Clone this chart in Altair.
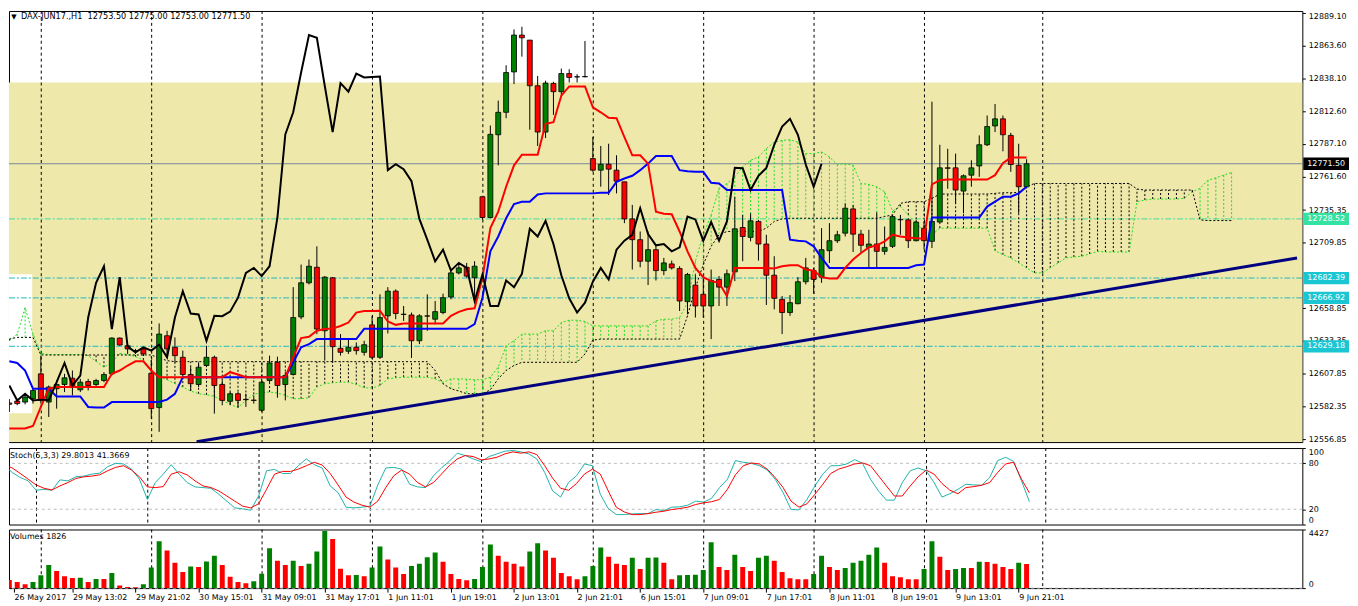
import altair as alt
import pandas as pd

# ---------------- data ----------------
opens = [
12585.0, 12586.5, 12585.7, 12588.3, 12607.7, 12585.7, 12596.1, 12599.4, 12604.3, 12595.3,
12601.7, 12599.4, 12602.5, 12607.7, 12635.6, 12629.6, 12625.8, 12627.1, 12608.2, 12581.4,
12637.4, 12628.4, 12620.6, 12607.2, 12599.4, 12614.2, 12620.6, 12599.4, 12586.3, 12592.2,
12587.8, 12587.0, 12579.3, 12602.5, 12616.7, 12599.4, 12607.2, 12652.1, 12678.7, 12690.8,
12641.3, 12682.6, 12627.6, 12625.3, 12628.4, 12624.5, 12645.9, 12620.6, 12652.9, 12672.2,
12654.2, 12653.6, 12633.5, 12652.9, 12650.3, 12655.5, 12667.6, 12686.4, 12690.8, 12682.6,
12745.8, 12729.6, 12794.1, 12811.6, 12843.1, 12871.8, 12867.9, 12832.3, 12796.2, 12834.1,
12827.7, 12841.8, 12839.3, 12839.3, 12775.5, 12766.5, 12771.1, 12766.5, 12757.4, 12728.5,
12712.3, 12695.5, 12704.5, 12688.2, 12693.4, 12689.8, 12664.0, 12676.9, 12669.7, 12660.6,
12681.3, 12675.3, 12687.2, 12721.8, 12714.1, 12726.5, 12708.9, 12684.6, 12665.8, 12655.5,
12662.4, 12679.5, 12688.2, 12683.1, 12703.7, 12711.5, 12717.4, 12736.3, 12716.6, 12706.3,
12708.9, 12703.2, 12707.1, 12727.8, 12727.8, 12711.5, 12721.3, 12711.0, 12726.0, 12768.3,
12768.3, 12750.2, 12762.6, 12769.8, 12786.3, 12801.0, 12806.5, 12793.6, 12770.3, 12753.5]
highs = [
12588.0, 12588.3, 12592.2, 12596.1, 12621.9, 12598.6, 12602.5, 12607.7, 12610.3, 12603.8,
12603.8, 12603.8, 12609.0, 12636.1, 12636.1, 12630.9, 12627.1, 12628.4, 12618.0, 12647.0,
12641.3, 12636.1, 12625.8, 12612.9, 12616.7, 12629.6, 12621.9, 12602.5, 12593.5, 12593.5,
12592.2, 12590.9, 12602.5, 12621.9, 12621.1, 12609.0, 12675.3, 12692.9, 12696.8, 12707.1,
12683.9, 12683.1, 12638.7, 12634.8, 12632.2, 12633.5, 12652.9, 12669.7, 12675.3, 12673.5,
12660.6, 12655.5, 12654.2, 12669.7, 12664.5, 12670.2, 12690.3, 12694.2, 12694.2, 12695.5,
12745.8, 12801.3, 12820.7, 12848.3, 12876.2, 12878.3, 12867.9, 12840.0, 12836.2, 12835.4,
12845.7, 12845.2, 12841.3, 12867.2, 12792.3, 12785.3, 12787.1, 12778.1, 12757.4, 12739.4,
12718.7, 12718.7, 12708.4, 12698.1, 12696.0, 12691.6, 12686.4, 12685.2, 12682.1, 12689.0,
12683.9, 12689.0, 12745.8, 12731.6, 12732.9, 12727.8, 12716.1, 12699.4, 12668.4, 12669.1,
12683.1, 12698.1, 12690.3, 12721.3, 12725.2, 12719.2, 12740.6, 12739.4, 12720.0, 12720.0,
12733.7, 12722.6, 12731.6, 12731.6, 12729.0, 12727.8, 12726.5, 12819.9, 12786.3, 12783.2,
12779.4, 12763.1, 12774.2, 12793.6, 12809.1, 12818.1, 12809.1, 12795.6, 12787.1, 12775.0]
lows = [
12578.0, 12583.2, 12583.9, 12584.5, 12584.5, 12574.1, 12580.6, 12593.5, 12590.9, 12593.5,
12594.8, 12597.4, 12601.2, 12606.4, 12629.6, 12623.2, 12623.2, 12621.9, 12572.8, 12562.5,
12620.6, 12616.7, 12603.8, 12594.8, 12597.4, 12612.9, 12576.7, 12583.2, 12583.2, 12581.4,
12581.9, 12584.5, 12578.0, 12601.2, 12589.1, 12587.0, 12606.4, 12650.3, 12677.4, 12638.7,
12618.0, 12616.7, 12621.9, 12623.2, 12622.7, 12621.9, 12619.3, 12619.3, 12639.2, 12650.3,
12649.0, 12620.1, 12630.9, 12641.3, 12646.4, 12654.2, 12665.8, 12685.2, 12682.6, 12664.5,
12727.8, 12729.0, 12770.3, 12807.0, 12833.6, 12855.0, 12798.0, 12785.3, 12791.5, 12809.6,
12824.6, 12834.9, 12834.9, 12838.8, 12765.2, 12753.6, 12747.1, 12748.4, 12725.2, 12689.0,
12690.8, 12676.9, 12680.5, 12684.6, 12689.0, 12656.7, 12654.2, 12651.6, 12651.6, 12634.8,
12660.6, 12660.6, 12680.0, 12695.5, 12711.0, 12696.0, 12661.4, 12658.0, 12638.7, 12652.9,
12661.9, 12677.4, 12670.2, 12678.7, 12694.2, 12709.7, 12714.8, 12702.7, 12702.7, 12690.3,
12690.3, 12700.6, 12705.8, 12716.1, 12705.8, 12711.0, 12704.5, 12705.8, 12726.0, 12752.0,
12740.6, 12732.9, 12753.6, 12761.3, 12785.3, 12796.2, 12781.2, 12765.2, 12732.9, 12753.0]
closes = [
12584.0, 12584.5, 12589.6, 12594.8, 12587.0, 12597.4, 12599.4, 12604.6, 12597.4, 12601.2,
12598.6, 12602.5, 12607.2, 12635.6, 12630.2, 12627.1, 12625.5, 12623.2, 12580.6, 12638.7,
12627.1, 12621.9, 12607.2, 12600.0, 12612.9, 12620.6, 12598.6, 12587.0, 12592.2, 12587.0,
12587.6, 12587.2, 12601.2, 12616.2, 12598.6, 12606.4, 12651.6, 12678.7, 12691.6, 12642.6,
12683.1, 12628.9, 12624.5, 12628.4, 12625.8, 12630.4, 12620.6, 12651.6, 12672.2, 12654.7,
12654.0, 12633.5, 12652.9, 12652.7, 12656.2, 12667.1, 12686.4, 12690.3, 12683.9, 12691.6,
12729.6, 12794.4, 12811.6, 12842.6, 12871.8, 12869.7, 12832.3, 12796.2, 12834.4, 12827.7,
12841.8, 12838.8, 12839.2, 12839.5, 12766.5, 12771.1, 12767.3, 12757.9, 12728.5, 12712.3,
12695.5, 12704.5, 12688.2, 12694.2, 12690.3, 12664.5, 12685.2, 12660.6, 12660.6, 12680.5,
12675.3, 12685.7, 12720.8, 12714.8, 12727.0, 12708.9, 12684.6, 12666.6, 12655.5, 12663.2,
12679.5, 12690.3, 12681.3, 12704.5, 12711.5, 12716.1, 12736.8, 12716.6, 12707.9, 12708.9,
12703.2, 12706.3, 12730.3, 12728.1, 12711.5, 12726.0, 12711.5, 12726.5, 12768.3, 12768.0,
12751.0, 12762.1, 12768.3, 12786.3, 12800.5, 12806.5, 12794.1, 12770.9, 12753.6, 12771.5]

tenkan = [
12565.1, 12565.1, 12565.1, 12567.0, 12582.0, 12596.1, 12597.4, 12597.4, 12597.4, 12597.4,
12597.4, 12597.4, 12597.4, 12607.7, 12610.3, 12614.2, 12617.5, 12617.5, 12610.3, 12605.1,
12605.1, 12605.1, 12605.1, 12605.1, 12605.1, 12605.1, 12605.1, 12605.1, 12609.0, 12607.2,
12605.1, 12605.1, 12605.1, 12605.1, 12605.1, 12605.1, 12620.6, 12635.6, 12636.6, 12641.3,
12642.6, 12643.1, 12645.0, 12647.7, 12655.5, 12656.7, 12656.7, 12656.9, 12648.5, 12645.9,
12646.9, 12647.0, 12647.0, 12647.0, 12647.0, 12647.0, 12652.9, 12656.0, 12658.0, 12658.8,
12682.6, 12721.3, 12734.2, 12753.6, 12770.3, 12778.6, 12778.6, 12778.6, 12802.6, 12803.9,
12824.6, 12831.8, 12831.8, 12831.8, 12815.5, 12811.6, 12807.3, 12807.0, 12792.3, 12778.1,
12778.1, 12771.6, 12734.2, 12732.6, 12732.1, 12718.7, 12703.2, 12690.3, 12683.1, 12680.0,
12678.7, 12668.4, 12690.3, 12690.3, 12690.3, 12690.3, 12690.3, 12689.8, 12691.6, 12692.4,
12692.4, 12689.0, 12688.2, 12683.1, 12682.1, 12682.1, 12690.3, 12696.8, 12701.9, 12706.3,
12707.9, 12711.0, 12716.1, 12714.8, 12714.0, 12713.5, 12713.0, 12755.4, 12758.7, 12759.2,
12759.2, 12759.2, 12759.2, 12759.2, 12759.2, 12762.6, 12772.0, 12776.3, 12776.3, 12776.3]
kijun = [
12617.5, 12616.2, 12610.3, 12596.1, 12596.1, 12596.1, 12590.1, 12590.1, 12590.1, 12590.1,
12581.9, 12581.4, 12581.4, 12585.7, 12585.7, 12585.7, 12585.7, 12585.7, 12585.7, 12585.7,
12587.6, 12592.2, 12605.1, 12605.1, 12605.1, 12605.1, 12605.1, 12605.1, 12605.1, 12605.1,
12605.1, 12605.1, 12605.1, 12605.1, 12605.1, 12605.1, 12616.7, 12628.4, 12630.9, 12634.8,
12634.8, 12634.8, 12634.8, 12634.8, 12634.8, 12642.8, 12642.8, 12642.8, 12642.8, 12642.8,
12642.8, 12642.8, 12642.8, 12642.8, 12642.8, 12642.8, 12642.8, 12642.8, 12642.8, 12646.4,
12667.1, 12703.2, 12714.8, 12729.0, 12740.1, 12741.9, 12741.9, 12747.6, 12748.4, 12748.4,
12748.4, 12748.4, 12748.4, 12748.4, 12748.4, 12748.9, 12748.9, 12757.4, 12760.0, 12762.1,
12766.5, 12771.6, 12777.6, 12777.6, 12777.6, 12766.5, 12765.7, 12765.2, 12765.2, 12756.7,
12756.1, 12751.0, 12751.0, 12751.0, 12751.0, 12751.0, 12751.0, 12751.0, 12751.0, 12712.3,
12711.5, 12711.0, 12707.1, 12698.1, 12690.3, 12690.3, 12690.3, 12690.3, 12690.3, 12690.3,
12690.3, 12690.3, 12690.3, 12690.3, 12690.3, 12692.4, 12692.9, 12729.6, 12729.6, 12729.6,
12729.6, 12729.6, 12729.6, 12729.6, 12738.1, 12742.0, 12745.8, 12745.8, 12748.4, 12753.6]
span_a = [
12633.5, 12638.7, 12659.3, 12638.7, 12623.7, 12622.7, 12622.7, 12622.7, 12622.7, 12622.7,
12621.9, 12617.5, 12612.9, 12616.7, 12623.7, 12622.7, 12621.1, 12618.5, 12610.8, 12605.6,
12603.1, 12600.0, 12597.4, 12594.3, 12592.2, 12591.4, 12590.1, 12587.0, 12583.9, 12581.4,
12587.0, 12591.7, 12593.2, 12593.5, 12592.7, 12590.9, 12588.3, 12588.3, 12589.1, 12597.4,
12600.0, 12600.7, 12601.2, 12601.2, 12599.4, 12596.9, 12596.6, 12598.6, 12603.8, 12604.6,
12605.1, 12605.1, 12605.1, 12605.1, 12603.8, 12601.0, 12603.8, 12603.8, 12603.6, 12603.1,
12603.1, 12605.1, 12612.9, 12629.6, 12633.5, 12638.7, 12638.7, 12638.7, 12641.3, 12641.3,
12647.7, 12649.5, 12649.5, 12648.5, 12645.1, 12645.1, 12645.1, 12645.1, 12645.1, 12645.1,
12645.1, 12645.1, 12649.0, 12650.3, 12650.3, 12651.6, 12663.2, 12695.5, 12716.1, 12731.6,
12752.3, 12756.1, 12761.3, 12769.1, 12774.2, 12776.8, 12783.3, 12788.4, 12789.7, 12790.2,
12788.4, 12779.4, 12779.4, 12780.7, 12776.8, 12770.9, 12771.6, 12770.3, 12756.1, 12755.4,
12753.6, 12749.7, 12734.7, 12738.1, 12731.6, 12725.2, 12718.7, 12716.1, 12721.3, 12721.3,
12721.3, 12721.3, 12721.3, 12721.3, 12721.3, 12703.7, 12700.6, 12698.1, 12694.2, 12690.3,
12686.4, 12686.4, 12690.3, 12694.2, 12698.1, 12698.8, 12699.4, 12701.2, 12703.2, 12702.7,
12702.7, 12702.7, 12702.7, 12741.9, 12743.2, 12744.0, 12744.0, 12744.0, 12744.0, 12744.5,
12749.7, 12752.3, 12758.7, 12760.5, 12762.6, 12764.7]
span_b = [
12634.8, 12636.1, 12636.1, 12636.1, 12622.4, 12622.4, 12622.4, 12622.4, 12622.4, 12622.4,
12622.4, 12622.4, 12622.4, 12622.4, 12622.4, 12622.4, 12622.4, 12622.4, 12622.4, 12620.1,
12618.0, 12617.2, 12617.2, 12617.2, 12617.2, 12617.2, 12617.2, 12617.2, 12617.2, 12617.2,
12617.2, 12617.2, 12617.2, 12617.2, 12617.2, 12617.2, 12617.2, 12617.2, 12617.2, 12617.2,
12617.2, 12617.2, 12617.2, 12617.2, 12617.2, 12617.2, 12617.2, 12617.2, 12617.2, 12617.2,
12617.2, 12617.2, 12617.2, 12617.2, 12610.3, 12600.0, 12596.1, 12594.3, 12592.2, 12592.2,
12592.2, 12595.3, 12603.8, 12610.3, 12614.2, 12616.7, 12616.7, 12616.7, 12616.7, 12616.7,
12616.7, 12616.7, 12616.7, 12623.2, 12634.0, 12634.8, 12634.8, 12634.8, 12634.8, 12634.8,
12634.8, 12634.8, 12634.8, 12634.8, 12634.8, 12634.8, 12652.9, 12674.8, 12692.9, 12707.1,
12716.1, 12718.7, 12718.7, 12718.7, 12718.7, 12718.7, 12721.3, 12726.5, 12728.5, 12729.0,
12729.0, 12729.0, 12729.0, 12729.0, 12729.0, 12729.0, 12729.0, 12729.0, 12729.0, 12729.0,
12729.0, 12730.3, 12731.6, 12740.6, 12741.9, 12741.9, 12741.9, 12744.5, 12747.9, 12747.9,
12747.9, 12747.9, 12747.9, 12747.9, 12747.9, 12748.4, 12748.9, 12748.9, 12749.2, 12753.6,
12756.1, 12756.1, 12756.1, 12756.1, 12756.1, 12756.1, 12756.1, 12756.1, 12756.1, 12756.1,
12756.1, 12756.1, 12756.1, 12751.8, 12751.0, 12751.0, 12751.0, 12751.0, 12751.0, 12751.0,
12751.0, 12727.7, 12727.2, 12727.2, 12727.2, 12727.2]

stoch_main = [
76.9, 68.1, 61.5, 57.1, 44.8, 46.1, 44.8, 58.4, 57.1, 62.4,
63.3, 65.9, 67.2, 75.6, 80.0, 79.2, 72.5, 59.3, 32.8, 54.9,
65.9, 78.3, 65.9, 54.9, 49.2, 48.3, 47.4, 39.5, 30.6, 21.8,
20.5, 18.7, 37.3, 70.3, 72.1, 66.8, 66.8, 76.9, 85.8, 78.3,
73.9, 50.5, 41.7, 22.7, 21.8, 22.7, 24.0, 51.8, 73.9, 74.7,
72.5, 52.7, 49.2, 48.3, 63.7, 73.9, 82.7, 93.3, 90.2, 85.8,
82.2, 88.9, 92.4, 95.9, 96.8, 95.0, 92.4, 85.8, 68.1, 43.9,
35.9, 54.9, 63.7, 79.2, 76.9, 39.5, 20.9, 13.0, 13.0, 13.9,
14.3, 14.3, 19.6, 18.3, 22.7, 23.1, 25.3, 30.6, 29.3, 34.2,
48.3, 59.3, 83.6, 81.4, 80.0, 76.9, 71.2, 59.3, 41.7, 19.6,
19.2, 32.8, 50.5, 65.9, 76.9, 76.9, 79.2, 84.9, 80.0, 59.3,
43.9, 31.9, 31.9, 54.9, 70.3, 73.9, 70.3, 54.9, 35.9, 40.3,
46.1, 52.7, 51.8, 51.4, 61.5, 83.6, 87.9, 82.7, 57.1, 29.8]
stoch_signal = [
78.3, 73.9, 66.8, 59.3, 51.8, 47.4, 45.2, 50.5, 54.9, 60.2,
62.4, 63.3, 65.0, 70.3, 74.7, 76.9, 71.2, 62.4, 49.2, 48.3,
49.6, 65.9, 69.0, 65.0, 57.1, 50.5, 48.3, 43.9, 37.3, 30.6,
24.0, 21.8, 27.1, 46.1, 65.9, 69.4, 69.4, 72.5, 76.9, 81.4,
77.8, 66.8, 51.8, 35.9, 29.3, 25.3, 22.7, 30.6, 48.3, 63.7,
71.2, 65.9, 54.9, 49.2, 54.9, 65.9, 76.9, 85.8, 90.2, 88.9,
84.5, 85.8, 88.0, 92.4, 95.0, 93.3, 95.0, 91.5, 76.9, 60.6,
47.4, 44.8, 53.6, 65.9, 72.5, 65.9, 43.9, 22.7, 16.5, 13.0,
13.0, 14.3, 16.1, 17.4, 19.6, 20.9, 22.7, 26.2, 28.4, 29.8,
32.8, 46.1, 65.0, 76.9, 80.5, 79.2, 72.5, 61.5, 48.3, 30.6,
22.7, 27.1, 39.5, 52.7, 66.8, 72.5, 75.6, 79.2, 80.5, 76.9,
63.7, 50.5, 37.3, 37.3, 50.5, 62.4, 71.2, 65.9, 53.6, 44.8,
40.3, 48.3, 49.6, 51.4, 54.9, 68.1, 79.2, 81.4, 59.3, 41.4]
volumes = [
619, 464, 284, 464, 980, 1754, 1290, 903, 770, 790,
464, 697, 690, 1135, 206, 77, 70, 284, 1548, 3535,
2838, 1909, 1213, 1625, 1600, 2012, 2451, 1754, 851, 464,
361, 516, 1084, 3019, 2064, 1754, 2064, 1677, 1832, 2761,
4309, 3715, 1471, 970, 985, 903, 1548, 3148, 2167, 1548,
1058, 1677, 1832, 2322, 2683, 1987, 1058, 697, 593, 697,
1600, 3302, 2451, 1987, 1832, 1625, 2761, 3380, 2838, 2296,
1135, 903, 671, 903, 1677, 3070, 2374, 1832, 1754, 2296,
1445, 2296, 2310, 1909, 671, 980, 990, 1000, 1367, 3457,
1600, 1367, 2528, 1600, 1290, 2296, 2451, 2064, 1213, 748,
671, 660, 1058, 2451, 1600, 1367, 1522, 1909, 2064, 2528,
3070, 1909, 903, 826, 671, 660, 1445, 3535, 2374, 1367,
1445, 1522, 1510, 1987, 1975, 1832, 1600, 1445, 1909, 1826]

time_labels = ["26 May 2017", "29 May 13:02", "29 May 21:02", "30 May 15:01", "31 May 09:01",
               "31 May 17:01", "1 Jun 11:01", "1 Jun 19:01", "2 Jun 13:01", "2 Jun 21:01",
               "6 Jun 15:01", "7 Jun 09:01", "7 Jun 17:01", "8 Jun 11:01", "8 Jun 19:01",
               "9 Jun 13:01", "9 Jun 21:01"]
time_label_bars = [0.6, 8, 16, 24, 32, 40, 48, 56, 64, 72, 80, 88, 96, 104, 112, 120, 128]
price_ticks = [12889.10, 12863.60, 12838.10, 12812.60, 12787.10, 12761.60, 12735.35,
               12709.85, 12658.85, 12633.35, 12607.85, 12582.35, 12556.85]
grid_bars = [4.05, 18.05, 32.05, 46.05, 60.05, 74.05, 88.05, 102.05, 116.05, 131.05]
level_prices = [12771.50, 12728.52, 12682.39, 12666.92, 12629.18]
level_box_colors = ["#000000", "#35E2A2", "#19C6D2", "#19C6D2", "#19C6D2"]
level_line_colors = ["#778899", "#3CDFA0", "#22B8BC", "#22B8BC", "#22B8BC"]
trend_bars = [23.75, 163.3]
trend_prices = [12554.7, 12698.0]
zone_top = [12834.9]
zone_bottom = [12554.5]
box_bars = [-0.2, 2.9]
box_prices = [12577.0, 12685.4]
title_text = "DAX-JUN17.,H1\u00a0 12753.50 12775.00 12753.00 12771.50"
stoch_text = "Stoch(5,3,3) 29.8013 41.3669"
vol_text = "Volumes 1826"

# ---------------- frames ----------------
n = len(opens)
candles = pd.DataFrame({"i": range(n), "open": opens, "high": highs, "low": lows, "close": closes})
candles["cc"] = ["#008000" if c > o else ("#FF0000" if c < o else "#000000")
                 for o, c in zip(opens, closes)]
ind = pd.DataFrame({"i": range(n), "tenkan": tenkan, "kijun": kijun})
cloud = pd.DataFrame({"i": range(len(span_a)), "a": span_a, "b": span_b})
cloud["hc"] = ["#22DD22" if a >= b else "#000000" for a, b in zip(span_a, span_b)]
chikou = pd.DataFrame({"i": range(n - 26), "v": closes[26:]})
stoch = pd.DataFrame({"i": range(n), "k": stoch_main, "d": stoch_signal})
vol = pd.DataFrame({"i": range(n), "v": volumes})
vol["vc"] = ["#FF0000"] + ["#008000" if volumes[j] > volumes[j - 1] else "#FF0000" for j in range(1, n)]
grid = pd.DataFrame({"g": grid_bars})
levels = pd.DataFrame({"p": level_prices, "bc": level_box_colors, "lc": level_line_colors,
                       "lbl": [f"{v:.2f}" for v in level_prices]})
trend = pd.DataFrame({"i": trend_bars, "p": trend_prices})
zone = pd.DataFrame({"top": zone_top, "bot": zone_bottom})
wbox = pd.DataFrame({"x0": [box_bars[0]], "x1": [box_bars[1]], "y0": [box_prices[0]], "y1": [box_prices[1]]})

FONT = "DejaVu Sans"
FS = 8
W = 1302

XS = alt.Scale(domain=[0.5875, 163.3375], nice=False, zero=False)
YS = alt.Scale(domain=[12554.5, 12890.6], nice=False, zero=False)
YAX = alt.Axis(orient="right", values=price_ticks, format=".2f", tickSize=3, labelPadding=3,
               labelFlush=2.5, domain=False, grid=False, labelFont=FONT, labelFontSize=FS,
               labelColor="black", tickColor="black", title=None)


def Xn(f="i"):
    return alt.X(f, type="quantitative", scale=XS, axis=None, title=None)


def Ym(f):
    return alt.Y(f, type="quantitative", scale=YS, axis=YAX, title=None)


box_path = "M-1,-0.27L1,-0.27L1,0.27L-1,0.27Z"
one = pd.DataFrame({"t": [title_text]})

main_layers = [
    alt.Chart(zone).mark_rect(color="#EEE8AA").encode(
        x=alt.value(0), x2=alt.value("width"), y=Ym("top"), y2="bot"),
    alt.Chart(wbox).mark_rect(color="white", clip=True).encode(
        x=Xn("x0"), x2="x1", y=Ym("y0"), y2="y1"),
    alt.Chart(grid).mark_rule(color="black", strokeDash=[3, 3], strokeWidth=1).encode(x=Xn("g")),
    alt.Chart(levels.iloc[1:]).mark_rule(strokeWidth=1, strokeDash=[6, 2, 2, 2]).encode(
        y=Ym("p"), color=alt.Color("lc:N", scale=None)),
    alt.Chart(levels.iloc[:1]).mark_rule(strokeWidth=1).encode(
        y=Ym("p"), color=alt.Color("lc:N", scale=None)),
    alt.Chart(cloud).mark_rule(strokeDash=[2, 2], strokeWidth=1, clip=True).encode(
        x=Xn(), y=Ym("a"), y2="b", color=alt.Color("hc:N", scale=None)),
    alt.Chart(cloud).mark_line(color="#22DD22", strokeDash=[2, 2], strokeWidth=1, clip=True).encode(
        x=Xn(), y=Ym("a")),
    alt.Chart(cloud).mark_line(color="black", strokeDash=[2, 2], strokeWidth=1, clip=True).encode(
        x=Xn(), y=Ym("b")),
    alt.Chart(trend).mark_line(color="#000080", strokeWidth=3, clip=True).encode(x=Xn(), y=Ym("p")),
    alt.Chart(candles).mark_rule(color="black", strokeWidth=1, clip=True).encode(
        x=Xn(), y=Ym("low"), y2="high"),
    alt.Chart(candles).mark_bar(width=5, stroke="black", strokeWidth=0.8, clip=True).encode(
        x=Xn(), y=Ym("open"), y2="close", color=alt.Color("cc:N", scale=None)),
    alt.Chart(ind).mark_line(color="#0000FF", strokeWidth=2, clip=True).encode(x=Xn(), y=Ym("kijun")),
    alt.Chart(ind).mark_line(color="#FF0000", strokeWidth=2, clip=True).encode(x=Xn(), y=Ym("tenkan")),
    alt.Chart(chikou).mark_line(color="black", strokeWidth=2, clip=True).encode(x=Xn(), y=Ym("v")),
    alt.Chart(levels).mark_point(shape=box_path, size=2116, filled=True, opacity=1, strokeWidth=0).encode(
        x=alt.value(1326), y=Ym("p"), color=alt.Color("bc:N", scale=None)),
    alt.Chart(levels).mark_text(align="left", baseline="middle", font=FONT, fontSize=FS,
                                color="white").encode(x=alt.value(1307), y=Ym("p"), text="lbl:N"),
    alt.Chart(pd.DataFrame({"t": ["\u25bc"]})).mark_text(align="center", baseline="middle", font=FONT,
                                                         fontSize=7, color="black").encode(
        x=alt.value(5), y=alt.value(6), text="t:N"),
    alt.Chart(one).mark_text(align="left", baseline="middle", font=FONT, fontSize=8.2,
                             color="black").encode(x=alt.value(12), y=alt.value(6), text="t:N"),
]
main = alt.layer(*main_layers).properties(width=W, height=434)

# ---------------- stochastic ----------------
SS = alt.Scale(domain=[0, 100], nice=False, zero=False)
SAX = alt.Axis(orient="right", values=[0, 20, 80, 100], tickSize=3, labelPadding=3, domain=False,
               grid=False, labelFlush=True, labelFont=FONT, labelFontSize=FS, labelColor="black",
               tickColor="black", title=None)


def Ys(f):
    return alt.Y(f, type="quantitative", scale=SS, axis=SAX, title=None)


stoch_levels = pd.DataFrame({"s": [20, 80]})
stoch_chart = alt.layer(
    alt.Chart(grid).mark_rule(color="black", strokeDash=[3, 3], strokeWidth=1).encode(x=Xn("g")),
    alt.Chart(stoch_levels).mark_rule(color="#BDBDBD", strokeDash=[3, 3], strokeWidth=1).encode(y=Ys("s")),
    alt.Chart(stoch).mark_line(color="#20B2AA", strokeWidth=1, clip=True).encode(x=Xn(), y=Ys("k")),
    alt.Chart(stoch).mark_line(color="#FF0000", strokeWidth=1, clip=True).encode(x=Xn(), y=Ys("d")),
    alt.Chart(pd.DataFrame({"t": [stoch_text]})).mark_text(
        align="left", baseline="middle", font=FONT, fontSize=FS, color="black").encode(
        x=alt.value(1), y=alt.value(8), text="t:N"),
).properties(width=W, height=77)

# ---------------- volumes ----------------
VS = alt.Scale(domain=[0, 4427], nice=False, zero=True)
VAX = alt.Axis(orient="right", values=[0, 4427], format="d", tickSize=3, labelPadding=3, domain=False,
               grid=False, labelFlush=True, labelFont=FONT, labelFontSize=FS, labelColor="black",
               tickColor="black", title=None)
label_expr = "[" + ",".join("'" + t + "'" for t in time_labels) + "][round(datum.value / 8)]"
XAX = alt.Axis(orient="bottom", values=time_label_bars, labelExpr=label_expr, labelAlign="left",
               labelFlush=False, labelOverlap=False, tickSize=4, labelPadding=1, domain=False,
               grid=False, labelFont=FONT, labelFontSize=FS, labelColor="black", tickColor="black",
               title=None)


def Xv(f="i"):
    return alt.X(f, type="quantitative", scale=XS, axis=XAX, title=None)


def Yv(f):
    return alt.Y(f, type="quantitative", scale=VS, axis=VAX, title=None)


vol_chart = alt.layer(
    alt.Chart(grid).mark_rule(color="black", strokeDash=[3, 3], strokeWidth=1).encode(x=Xv("g")),
    alt.Chart(pd.DataFrame({"z": [0]})).mark_rule(color="#BDBDBD", strokeDash=[3, 3]).encode(y=Yv("z")),
    alt.Chart(vol).mark_bar(width=5, clip=True).encode(
        x=Xv(), y=Yv("v"), color=alt.Color("vc:N", scale=None)),
    alt.Chart(pd.DataFrame({"t": [vol_text]})).mark_text(
        align="left", baseline="middle", font=FONT, fontSize=FS, color="black").encode(
        x=alt.value(1), y=alt.value(8), text="t:N"),
).properties(width=W, height=59)

chart = alt.vconcat(main, stoch_chart, vol_chart, spacing=3).properties(
    padding={"left": 0, "top": 0, "right": 0, "bottom": 0}, background="white"
).configure_view(stroke="black", strokeWidth=1)

chart.save("out.html", embed_options={"renderer": "svg", "actions": False})
